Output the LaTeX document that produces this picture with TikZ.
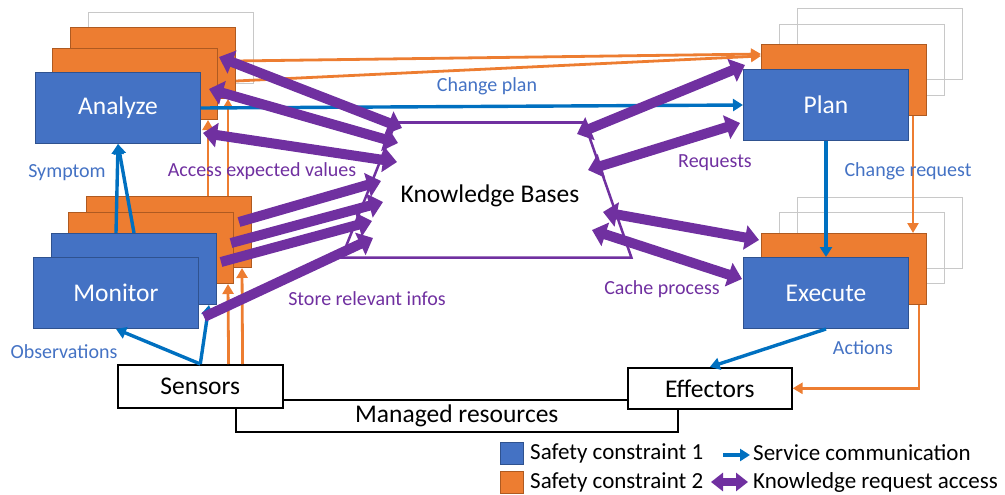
\documentclass[tikz,border=0pt]{standalone}
\usepackage{fontspec}
\setmainfont{Carlito}
\usetikzlibrary{arrows.meta,calc,shapes.geometric}

\definecolor{boxblue}{HTML}{4472C4}
\definecolor{boxblueedge}{HTML}{2F528F}
\definecolor{boxorange}{HTML}{ED7D31}
\definecolor{boxorangeedge}{HTML}{AE5A21}
\definecolor{boxgray}{HTML}{C8C8C8}
\definecolor{linkblue}{HTML}{0070C0}
\definecolor{kbpurple}{HTML}{7030A0}

\begin{document}
\begin{tikzpicture}[x=1pt, y=-1pt,
  stackbox/.style={anchor=north west, minimum width=165pt, minimum height=71pt, inner sep=0pt, line width=1pt},
  bluebox/.style={stackbox, fill=boxblue, draw=boxblueedge, text=white, font=\fontsize{25.5}{30}\selectfont},
  orangebox/.style={stackbox, fill=boxorange, draw=boxorangeedge},
  graybox/.style={stackbox, draw=boxgray, line width=1.3pt},
  resbox/.style={anchor=north west, draw=black, line width=1.6pt, fill=white, inner sep=0pt, font=\fontsize{25.5}{30}\selectfont},
  servicearrow/.style={draw=linkblue, line width=3.4pt, -{Triangle[width=12pt,length=10pt]}},
  constraintarrow/.style={draw=boxorange, line width=2.8pt, -{Triangle[width=11pt,length=10pt]}},
  accessarrow/.style={draw=kbpurple, line width=10pt, {Triangle[width=24pt,length=14pt]}-{Triangle[width=24pt,length=14pt]}},
  storearrow/.style={draw=kbpurple, line width=10pt, -{Triangle[width=24pt,length=14pt]}},
  bluelabel/.style={text=boxblue, font=\fontsize{20}{24}\selectfont},
  purplelabel/.style={text=kbpurple, font=\fontsize{20}{24}\selectfont},
  legendlabel/.style={anchor=west, inner sep=0pt, font=\fontsize{23}{27}\selectfont}]

\useasboundingbox (0,0) rectangle (1005,495);

% Draw the Analyze stack
\node[graybox] (ana4) at (88,12) {};
\node[orangebox] (ana3) at (70,27) {};
\node[orangebox] (ana2) at (52,48) {};
\node[bluebox] (ana1) at (35,72) {Analyze};

% Draw the Monitor stack
\node[orangebox] (mon4) at (86,196) {};
\node[orangebox] (mon3) at (68,212) {};
\node[bluebox] (mon2) at (51,233) {};
\node[bluebox] (mon1) at (33,257) {Monitor};

% Draw the Plan stack
\node[graybox] (pla4) at (797,8) {};
\node[graybox] (pla3) at (779,24) {};
\node[orangebox] (pla2) at (761,44) {};
\node[bluebox] (pla1) at (743,69) {Plan};

% Draw the Execute stack
\node[graybox] (exe4) at (797,197) {};
\node[graybox] (exe3) at (779,212) {};
\node[orangebox] (exe2) at (761,233) {};
\node[bluebox] (exe1) at (743,257) {Execute};

% Draw the managed resources
\node[resbox, minimum width=442pt, minimum height=32pt] (man) at (235,399) {Managed resources};
\node[resbox, minimum width=165pt, minimum height=43pt] (sens) at (117,364) {Sensors};
\node[resbox, minimum width=164pt, minimum height=41pt] (eff) at (627,367) {Effectors};

% Draw the knowledge bases
\node[trapezium, trapezium left angle=74, trapezium right angle=76, trapezium stretches=true,
  minimum width=290pt, minimum height=135pt, draw=kbpurple, line width=2.5pt] (kbox) at (490,190) {};
\node[font=\fontsize{25.5}{30}\selectfont] (kb) at (490,196) {Knowledge Bases};

% Orange links between the constraint layers
\draw[constraintarrow] ($(mon4.north west)+(122,0)$) -- ($(ana2.south west)+(156,0)$);
\draw[constraintarrow] ($(mon4.north east)+(-24,0)$) -- ($(ana3.south east)+(-8,0)$);
\draw[constraintarrow] ($(sens.north east)+(-55,0)$) -- ($(mon3.south east)+(-6,0)$);
\draw[constraintarrow] ($(sens.north east)+(-41,0)$) -- ($(mon4.south east)+(-10,0)$);
\draw[constraintarrow] ($(ana3.east)+(0,-2)$) -- ($(pla2.north west)+(0,10)$);
\draw[constraintarrow] ($(ana3.east)+(0,18)$) -- ($(pla2.north west)+(0,12)$);
\draw[constraintarrow] ($(pla2.south east)+(-14,0)$) -- ($(exe2.north east)+(-14,0)$);
\draw[constraintarrow] ($(exe2.south east)+(-8,0)$) |- (eff.east);

% Blue service communication
\draw[servicearrow] (ana1.east) -- (pla1.west);
\draw[servicearrow] (mon2.north) -- (ana1.south);
\draw[servicearrow] ($(mon2.north)+(-18,0)$) -- (ana1.south);
\draw[servicearrow] (sens.north) -- (mon1.south);
\draw[servicearrow] (sens.north) -- ($(mon2.south east)+(-8,0)$);
\draw[servicearrow] (pla1.south) -- (exe1.north);
\draw[servicearrow] (exe1.south) -- (eff.north);

% Purple knowledge access
\draw[accessarrow] ($(ana2.north east)+(1,9)$) -- ($(kb)+(-88,-68)$);
\draw[accessarrow] ($(ana2.east)+(-9,5)$) -- ($(kb)+(-92,-53)$);
\draw[accessarrow] ($(ana1.east)+(2,25)$) -- ($(kb)+(-93,-34)$);
\draw[storearrow] ($(mon4.east)+(-13,-10)$) -- ($(kb)+(-109,-15)$);
\draw[storearrow] ($(mon3.east)+(-3,-5)$) -- ($(kb)+(-107,6)$);
\draw[storearrow] ($(mon3.south east)+(-13,-22)$) -- ($(kb)+(-118,25)$);
\draw[storearrow] ($(mon1.east)+(5,24)$) -- ($(kb)+(-117,42)$);
\draw[accessarrow] ($(kb)+(87,-62)$) -- ($(pla1.north west)+(2,-4)$);
\draw[accessarrow] ($(kb)+(98,-26)$) -- ($(pla1.west)+(-3,18)$);
\draw[accessarrow] ($(kb)+(113,16)$) -- ($(exe2.north west)+(-2,7)$);
\draw[accessarrow] ($(kb)+(102,34)$) -- ($(exe1.west)+(-1,-14)$);

% Labels
\node[bluelabel] (lchplan) at (487,86) {Change plan};
\node[bluelabel] (lsymp) at (67,173) {Symptom};
\node[purplelabel] (laccess) at (262,171) {Access expected values};
\node[purplelabel] (lstore) at (367,299) {Store relevant infos};
\node[bluelabel] (lobs) at (64,352) {Observations};
\node[purplelabel] (lreq) at (715,163) {Requests};
\node[bluelabel] (lchreq) at (908,171) {Change request};
\node[purplelabel] (lcache) at (662,289) {Cache process};
\node[bluelabel] (lact) at (863,348) {Actions};

% Legend
\node[anchor=north west, fill=boxblue, draw=boxblueedge, line width=1pt, minimum width=23pt, minimum height=22pt, inner sep=0pt] (lgblue) at (500,442) {};
\node[anchor=north west, fill=boxorange, draw=boxorangeedge, line width=1pt, minimum width=23pt, minimum height=22pt, inner sep=0pt] (lgorange) at (500,471) {};
\node[legendlabel] (lgtext1) at (530,453) {Safety constraint 1};
\node[legendlabel] (lgtext2) at (530,482) {Safety constraint 2};
\coordinate (lgsa) at (723,455);
\coordinate (lgsb) at (750,455);
\draw[servicearrow] (lgsa) -- (lgsb);
\coordinate (lgka) at (711,482);
\coordinate (lgkb) at (748,482);
\draw[draw=kbpurple, line width=8pt, {Triangle[width=18pt,length=12pt]}-{Triangle[width=18pt,length=12pt]}] (lgka) -- (lgkb);
\node[legendlabel] (lgtext3) at (753,453) {Service communication};
\node[legendlabel] (lgtext4) at (753,482) {Knowledge request access};

\end{tikzpicture}
\end{document}
